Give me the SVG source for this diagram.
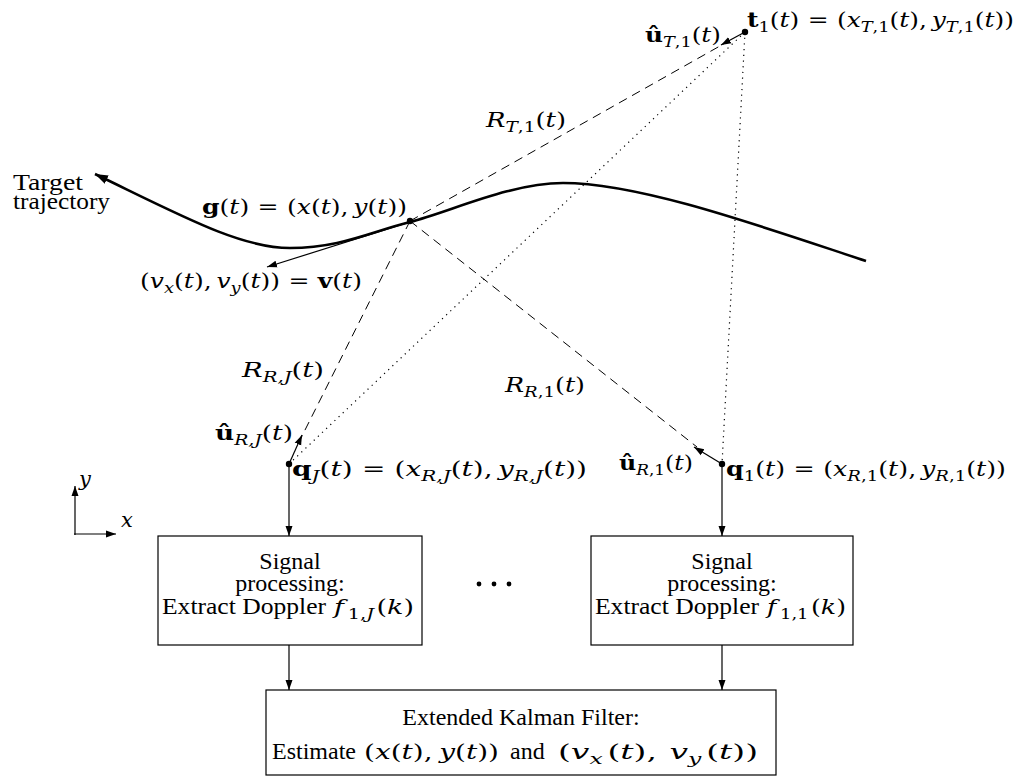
<svg xmlns="http://www.w3.org/2000/svg" width="1026" height="778" viewBox="0 0 1026 778">
<defs>
<marker id="ah" viewBox="0 0 10 10" refX="10" refY="5" markerWidth="10" markerHeight="10" markerUnits="userSpaceOnUse" orient="auto">
<path d="M0,1.5 L10,5 L0,8.5 Z" fill="#000"/>
</marker>
<marker id="ahb" viewBox="0 0 10 10" refX="10" refY="5" markerWidth="13" markerHeight="13" markerUnits="userSpaceOnUse" orient="auto">
<path d="M0,1.5 L10,5 L0,8.5 Z" fill="#000"/>
</marker>
</defs>
<style>
text{font-family:"Liberation Serif","Times New Roman",serif;font-size:24px;fill:#000}
.m{font-family:"DejaVu Serif","Liberation Serif",serif;font-size:21px}
.i{font-style:italic}
.b{font-weight:bold}
.s{font-size:15px}
.box{fill:#fff;stroke:#000;stroke-width:1.2}
.dash{stroke:#000;stroke-width:1;stroke-dasharray:9,6;fill:none}
.dot{stroke:#000;stroke-width:1.2;stroke-dasharray:1.2,4.5;fill:none}
.ar{stroke:#000;stroke-width:1.2;fill:none;marker-end:url(#ah)}
</style>
<rect width="1026" height="778" fill="#fff"/>

<g id="connectors">
<line class="dash" x1="410" y1="221" x2="727" y2="42"/>
<line class="dot" x1="745" y1="32" x2="289" y2="464"/>
<line class="dot" x1="745" y1="32" x2="722" y2="464"/>
<line class="dash" x1="410" y1="221" x2="300" y2="440"/>
<line class="dash" x1="410" y1="221" x2="697" y2="447"/>
<path d="M866,261 C760,226 640,183 563,183 C510,183 450,212 410,222 C370,232 340,248 290,248 C240,248 180,215 95,174" fill="none" stroke="#000" stroke-width="2.6" marker-end="url(#ahb)"/>
<line class="ar" x1="410" y1="222" x2="267" y2="267"/>
<line class="ar" x1="745" y1="32" x2="721" y2="45"/>
<line class="ar" x1="289" y1="464" x2="302" y2="435"/>
<line class="ar" x1="722" y1="464" x2="694" y2="447"/>
<line class="ar" x1="289" y1="464" x2="289" y2="536"/>
<line class="ar" x1="722" y1="464" x2="722" y2="536"/>
<line class="ar" x1="289" y1="645" x2="289" y2="690"/>
<line class="ar" x1="722" y1="645" x2="722" y2="690"/>
<line class="ar" x1="75" y1="535" x2="75" y2="486"/>
<line class="ar" x1="74" y1="534" x2="116" y2="534"/>
</g>

<g id="points">
<circle cx="745" cy="32" r="3.2"/>
<circle cx="410" cy="221" r="3.2"/>
<circle cx="289" cy="464" r="3.2"/>
<circle cx="722" cy="464" r="3.2"/>
</g>

<g id="labels">
<text class="m" x="747" y="27" textLength="267" lengthAdjust="spacingAndGlyphs"><tspan class="b">t</tspan><tspan class="s" dy="5">1</tspan><tspan dy="-5">(</tspan><tspan class="i">t</tspan>)<tspan dx="7">=</tspan><tspan dx="7">(</tspan><tspan class="i">x</tspan><tspan class="s" dy="5"><tspan class="i">T</tspan>,1</tspan><tspan dy="-5">(</tspan><tspan class="i">t</tspan>),<tspan dx="4" class="i">y</tspan><tspan class="s" dy="5"><tspan class="i">T</tspan>,1</tspan><tspan dy="-5">(</tspan><tspan class="i">t</tspan>))</text>
<text class="m" x="645" y="42" textLength="76" lengthAdjust="spacingAndGlyphs"><tspan class="b">û</tspan><tspan class="s" dy="5"><tspan class="i">T</tspan>,1</tspan><tspan dy="-5">(</tspan><tspan class="i">t</tspan>)</text>
<text class="m" x="486" y="127" textLength="80" lengthAdjust="spacingAndGlyphs"><tspan class="i">R</tspan><tspan class="s" dy="5"><tspan class="i">T</tspan>,1</tspan><tspan dy="-5">(</tspan><tspan class="i">t</tspan>)</text>
<text x="13" y="190" textLength="70" lengthAdjust="spacingAndGlyphs">Target</text>
<text x="13" y="209" textLength="97" lengthAdjust="spacingAndGlyphs">trajectory</text>
<text class="m" x="202" y="214" textLength="205" lengthAdjust="spacingAndGlyphs"><tspan class="b">g</tspan>(<tspan class="i">t</tspan>)<tspan dx="7">=</tspan><tspan dx="7">(</tspan><tspan class="i">x</tspan>(<tspan class="i">t</tspan>),<tspan dx="4" class="i">y</tspan>(<tspan class="i">t</tspan>))</text>
<text class="m" x="140" y="288" textLength="222" lengthAdjust="spacingAndGlyphs">(<tspan class="i">v</tspan><tspan class="s i" dy="5">x</tspan><tspan dy="-5">(</tspan><tspan class="i">t</tspan>),<tspan dx="4" class="i">v</tspan><tspan class="s i" dy="5">y</tspan><tspan dy="-5">(</tspan><tspan class="i">t</tspan>))<tspan dx="7">=</tspan><tspan dx="7" class="b">v</tspan>(<tspan class="i">t</tspan>)</text>
<text class="m" x="242" y="377" textLength="82" lengthAdjust="spacingAndGlyphs"><tspan class="i">R</tspan><tspan class="s i" dy="5">R,J</tspan><tspan dy="-5">(</tspan><tspan class="i">t</tspan>)</text>
<text class="m" x="505" y="392" textLength="80" lengthAdjust="spacingAndGlyphs"><tspan class="i">R</tspan><tspan class="s" dy="5"><tspan class="i">R</tspan>,1</tspan><tspan dy="-5">(</tspan><tspan class="i">t</tspan>)</text>
<text class="m" x="215" y="440" textLength="78" lengthAdjust="spacingAndGlyphs"><tspan class="b">û</tspan><tspan class="s i" dy="5">R,J</tspan><tspan dy="-5">(</tspan><tspan class="i">t</tspan>)</text>
<text class="m" x="292" y="476" textLength="295" lengthAdjust="spacingAndGlyphs"><tspan class="b">q</tspan><tspan class="s i" dy="5">J</tspan><tspan dy="-5">(</tspan><tspan class="i">t</tspan>)<tspan dx="7">=</tspan><tspan dx="7">(</tspan><tspan class="i">x</tspan><tspan class="s i" dy="5">R,J</tspan><tspan dy="-5">(</tspan><tspan class="i">t</tspan>),<tspan dx="4" class="i">y</tspan><tspan class="s i" dy="5">R,J</tspan><tspan dy="-5">(</tspan><tspan class="i">t</tspan>))</text>
<text class="m" x="619" y="470" textLength="74" lengthAdjust="spacingAndGlyphs"><tspan class="b">û</tspan><tspan class="s" dy="5"><tspan class="i">R</tspan>,1</tspan><tspan dy="-5">(</tspan><tspan class="i">t</tspan>)</text>
<text class="m" x="726" y="476" textLength="280" lengthAdjust="spacingAndGlyphs"><tspan class="b">q</tspan><tspan class="s" dy="5">1</tspan><tspan dy="-5">(</tspan><tspan class="i">t</tspan>)<tspan dx="7">=</tspan><tspan dx="7">(</tspan><tspan class="i">x</tspan><tspan class="s" dy="5"><tspan class="i">R</tspan>,1</tspan><tspan dy="-5">(</tspan><tspan class="i">t</tspan>),<tspan dx="4" class="i">y</tspan><tspan class="s" dy="5"><tspan class="i">R</tspan>,1</tspan><tspan dy="-5">(</tspan><tspan class="i">t</tspan>))</text>
<text class="m i" x="79" y="486">y</text>
<text class="m i" x="121" y="527">x</text>
</g>

<g id="box-J">
<rect class="box" x="158" y="536" width="264" height="109"/>
<text x="290" y="569" text-anchor="middle">Signal</text>
<text x="290" y="591" text-anchor="middle">processing:</text>
<text x="162" y="614" textLength="164" lengthAdjust="spacingAndGlyphs">Extract Doppler</text>
<text class="m" x="334" y="614" textLength="80" lengthAdjust="spacingAndGlyphs"><tspan class="i">f</tspan><tspan class="s" dy="5" dx="3">1,<tspan class="i">J</tspan></tspan><tspan dy="-5" dx="2">(</tspan><tspan class="i">k</tspan>)</text>
</g>

<g id="ellipsis">
<circle cx="479" cy="584" r="2.4"/><circle cx="494" cy="584" r="2.4"/><circle cx="509" cy="584" r="2.4"/>
</g>

<g id="box-1">
<rect class="box" x="591" y="536" width="262" height="109"/>
<text x="722" y="569" text-anchor="middle">Signal</text>
<text x="722" y="591" text-anchor="middle">processing:</text>
<text x="595" y="614" textLength="164" lengthAdjust="spacingAndGlyphs">Extract Doppler</text>
<text class="m" x="767" y="614" textLength="79" lengthAdjust="spacingAndGlyphs"><tspan class="i">f</tspan><tspan class="s" dy="5" dx="3">1,1</tspan><tspan dy="-5" dx="2">(</tspan><tspan class="i">k</tspan>)</text>
</g>

<g id="box-ekf">
<rect class="box" x="266" y="690" width="510" height="85"/>
<text x="521" y="725" text-anchor="middle">Extended Kalman Filter:</text>
<text x="272" y="759">Estimate</text>
<text class="m" x="364" y="759" textLength="135" lengthAdjust="spacingAndGlyphs">(<tspan class="i">x</tspan>(<tspan class="i">t</tspan>),<tspan dx="5" class="i">y</tspan>(<tspan class="i">t</tspan>))</text>
<text x="510" y="759">and</text>
<text class="m" x="558" y="759" textLength="200" lengthAdjust="spacingAndGlyphs">(<tspan class="i">v</tspan><tspan class="s i" dy="5">x</tspan><tspan dy="-5" dx="3">(</tspan><tspan class="i">t</tspan>),<tspan dx="8" class="i">v</tspan><tspan class="s i" dy="5">y</tspan><tspan dy="-5" dx="3">(</tspan><tspan class="i">t</tspan>))</text>
</g>
</svg>
